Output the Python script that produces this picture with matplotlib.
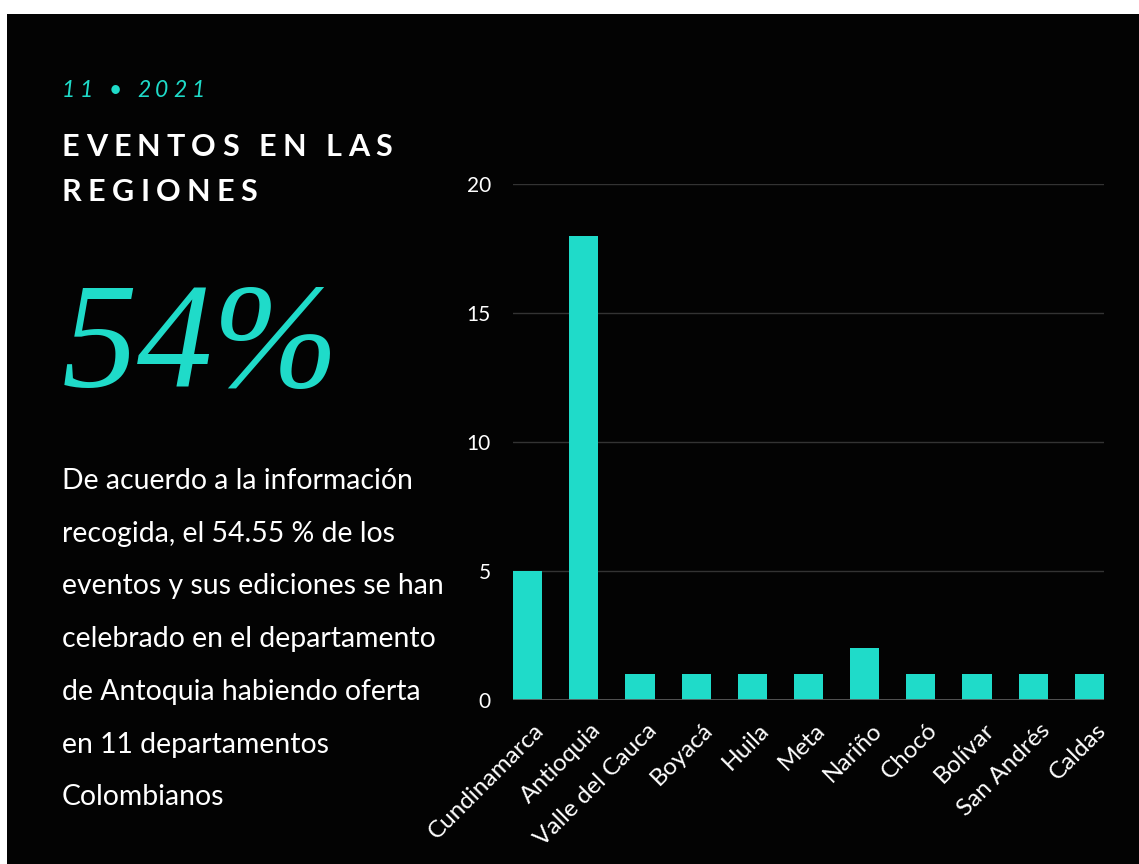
# eventos_regiones.py
# Gráfico de eventos por departamento (noviembre 2021)

import matplotlib.pyplot as plt
from matplotlib.patches import Rectangle
from matplotlib.font_manager import FontProperties
import matplotlib.transforms as mtransforms

# ---- DATOS ----
departamentos = ['Cundinamarca', 'Antioquia', 'Valle del Cauca', 'Boyacá', 'Huila',
                 'Meta', 'Nariño', 'Chocó', 'Bolívar', 'San Andrés', 'Caldas']
eventos = [5, 18, 1, 1, 1, 1, 2, 1, 1, 1, 1]
ticks_y = [0, 5, 10, 15, 20]

fecha = '11 • 2021'
titulo = ['EVENTOS EN LAS', 'REGIONES']
porcentaje = '54%'
parrafo = ['De acuerdo a la información',
           'recogida, el 54.55 % de los',
           'eventos y sus ediciones se han',
           'celebrado en el departamento',
           'de Antoquia habiendo oferta',
           'en 11 departamentos',
           'Colombianos']

TEAL = '#1fdbc9'
W, H = 1139, 864

fig = plt.figure(figsize=(W / 100, H / 100), dpi=100, facecolor='white')
fig.add_artist(Rectangle((7 / W, 0), 1 - 7 / W, (H - 14) / H, transform=fig.transFigure,
                         facecolor='#030303', edgecolor='none', zorder=-10))
renderer = fig.canvas.get_renderer()


def texto_espaciado(s, x, y, tracking, **kw):
    # dibuja texto con espaciado entre letras (coordenadas en pixeles desde arriba)
    prop = FontProperties(family=kw.get('family', 'Lato'), size=kw.get('size', 12),
                          weight=kw.get('weight', 'normal'), style=kw.get('style', 'normal'))
    for i, ch in enumerate(s):
        ancho = renderer.get_text_width_height_descent(s[:i], prop, ismath=False)[0] if i else 0
        px = x + ancho + i * tracking
        fig.text(px / W, 1 - y / H, ch, fontproperties=prop, color=kw.get('color', 'white'),
                 va='baseline', ha='left')


# ---- TEXTOS DEL PANEL IZQUIERDO ----
texto_espaciado(fecha, 62, 97, 4.9, size=16.5, style='italic', color=TEAL)
texto_espaciado(titulo[0], 62, 156, 6.2, size=22, weight='bold')
texto_espaciado(titulo[1], 62, 201, 6.2, size=22, weight='bold')

fig.text(62 / W, 1 - 387 / H, porcentaje, family='Liberation Serif', style='italic',
         size=109, color=TEAL, va='baseline', ha='left')

for i, linea in enumerate(parrafo):
    fig.text(62 / W, 1 - (489 + i * 52.7) / H, linea, family='Lato', size=20.4,
             color='white', va='baseline', ha='left')

# ---- GRÁFICO DE BARRAS ----
ax = fig.add_axes([513 / W, 164 / H, (1104 - 513) / W, 516 / H])
ax.set_facecolor('none')
x = range(len(departamentos))
ax.bar(x, eventos, width=0.52, color=TEAL, edgecolor='none', zorder=3)
ax.set_xlim(-0.26, len(departamentos) - 1 + 0.26)
ax.set_ylim(0, 20)
ax.set_yticks(ticks_y)
ax.grid(axis='y', color='#333333', linewidth=1, zorder=0)
ax.axhline(0, color='#5a5a5a', linewidth=2, zorder=4)
for s in ax.spines.values():
    s.set_visible(False)

ax.tick_params(axis='y', length=0, pad=16, labelcolor='white', labelsize=15)
ax.tick_params(axis='x', length=0, pad=14, labelcolor='white', labelsize=17.5)
for t in ax.get_yticklabels():
    t.set_fontfamily('Lato')

ax.set_xticks(list(x))
ax.set_xticklabels(departamentos, rotation=45, ha='right', rotation_mode='anchor',
                   family='Lato')
desplaza = mtransforms.ScaledTranslation(6 / 100, 0, fig.dpi_scale_trans)
for t in ax.get_xticklabels():
    t.set_transform(t.get_transform() + desplaza)

plt.savefig('out.png', dpi=100, facecolor=fig.get_facecolor())
